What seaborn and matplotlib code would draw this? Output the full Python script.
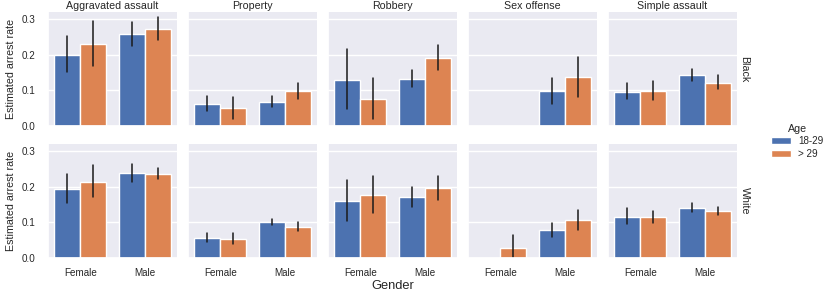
import numpy as np
import pandas as pd
import matplotlib.pyplot as plt
import matplotlib.patches as mpatches
import seaborn as sns

# Categories
crimes = ['Aggravated assault', 'Property', 'Robbery', 'Sex offense', 'Simple assault']
races = ['Black', 'White']
genders = ['Female', 'Male']
ages = ['18-29', '> 29']

# Estimated arrest rate per crime, order: (F,18-29), (F,>29), (M,18-29), (M,>29)
# nan = no bar
black_rate = {
    'Aggravated assault': [0.200, 0.231, 0.258, 0.272],
    'Property':           [0.062, 0.051, 0.068, 0.098],
    'Robbery':            [0.130, 0.076, 0.132, 0.192],
    'Sex offense':        [np.nan, np.nan, 0.098, 0.138],
    'Simple assault':     [0.096, 0.098, 0.142, 0.122],
}
black_lo = {
    'Aggravated assault': [0.151, 0.168, 0.225, 0.241],
    'Property':           [0.042, 0.021, 0.053, 0.075],
    'Robbery':            [0.048, 0.019, 0.110, 0.157],
    'Sex offense':        [np.nan, np.nan, 0.061, 0.081],
    'Simple assault':     [0.075, 0.072, 0.126, 0.103],
}
black_hi = {
    'Aggravated assault': [0.252, 0.295, 0.291, 0.306],
    'Property':           [0.085, 0.080, 0.085, 0.122],
    'Robbery':            [0.215, 0.135, 0.156, 0.228],
    'Sex offense':        [np.nan, np.nan, 0.135, 0.195],
    'Simple assault':     [0.121, 0.126, 0.159, 0.142],
}
white_rate = {
    'Aggravated assault': [0.193, 0.214, 0.238, 0.236],
    'Property':           [0.056, 0.054, 0.100, 0.088],
    'Robbery':            [0.161, 0.177, 0.170, 0.196],
    'Sex offense':        [np.nan, 0.028, 0.078, 0.106],
    'Simple assault':     [0.115, 0.114, 0.140, 0.132],
}
white_lo = {
    'Aggravated assault': [0.154, 0.170, 0.212, 0.221],
    'Property':           [0.046, 0.040, 0.093, 0.077],
    'Robbery':            [0.104, 0.127, 0.144, 0.164],
    'Sex offense':        [np.nan, -0.005, 0.059, 0.080],
    'Simple assault':     [0.096, 0.099, 0.129, 0.122],
}
white_hi = {
    'Aggravated assault': [0.235, 0.261, 0.265, 0.252],
    'Property':           [0.070, 0.071, 0.109, 0.101],
    'Robbery':            [0.220, 0.229, 0.199, 0.231],
    'Sex offense':        [np.nan, 0.064, 0.098, 0.134],
    'Simple assault':     [0.139, 0.132, 0.154, 0.144],
}

# Build long table: three rows per bar (low, estimate, high) so that
# median = estimate and (min, max) = the interval
rows = []
tables = {'Black': (black_rate, black_lo, black_hi),
          'White': (white_rate, white_lo, white_hi)}
for race in races:
    rate, lo, hi = tables[race]
    for crime in crimes:
        i = 0
        for g in genders:
            for a in ages:
                if not np.isnan(rate[crime][i]):
                    for v in (lo[crime][i], rate[crime][i], hi[crime][i]):
                        rows.append({'Race': race, 'Crime': crime, 'Gender': g,
                                     'Age': a, 'Estimated arrest rate': v})
                i += 1
df = pd.DataFrame(rows)

sns.set_theme(style='darkgrid', palette='deep')
plt.rcParams['font.family'] = ['Liberation Sans', 'DejaVu Sans']
plt.rcParams['axes.titlepad'] = 2.5

g = sns.catplot(data=df, x='Gender', y='Estimated arrest rate', hue='Age',
                col='Crime', row='Race', kind='bar',
                order=genders, hue_order=ages, col_order=crimes, row_order=races,
                estimator='median', errorbar=lambda v: (v.min(), v.max()),
                err_kws={'color': '0.1', 'linewidth': 1.1}, saturation=1,
                margin_titles=True, legend=False, height=2, aspect=1)

g.figure.set_size_inches(8.31, 2.91)
g.set_titles(row_template='{row_name}', col_template='{col_name}', size=7.7)
g.set_axis_labels('', 'Estimated arrest rate')
for ax in g.axes.flat:
    ax.tick_params(axis='x', labelsize=7.1, pad=1.5)
    ax.tick_params(axis='y', labelsize=7.1, pad=3)
    ax.yaxis.label.set_size(7.7)
    ax.set_yticks([0, 0.1, 0.2, 0.3])
    ax.set_ylim(0, 0.32)
g.axes[1, 2].set_xlabel('Gender', fontsize=9.3, labelpad=1)

g.figure.subplots_adjust(left=48/831, right=737/831, bottom=1-258/291, top=1-12/291,
                         wspace=0.085, hspace=0.158)

pal = sns.color_palette('deep')
handles = [mpatches.Patch(facecolor=pal[0], edgecolor='white', label=ages[0]),
           mpatches.Patch(facecolor=pal[1], edgecolor='white', label=ages[1])]
g.figure.legend(handles=handles, title='Age', loc='center left',
                bbox_to_anchor=(762/831, 0.515), frameon=False,
                fontsize=7.1, title_fontsize=7.7, labelspacing=0.25)

g.figure.savefig('out.png', dpi=100)
